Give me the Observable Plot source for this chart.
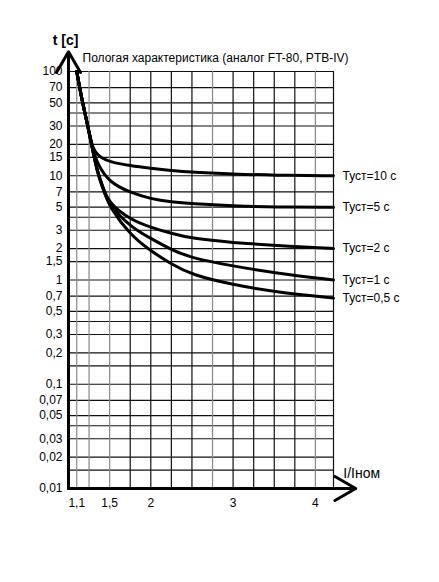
<!DOCTYPE html>
<html>
<head>
<meta charset="utf-8">
<script src="https://cdn.jsdelivr.net/npm/d3@7"></script>
<script src="https://cdn.jsdelivr.net/npm/@observablehq/plot@0.6"></script>
<style>
  body { margin: 0; background: #fff; }
</style>
</head>
<body>
<div id="chart"></div>
<script>
// current multiples I/Iном and trip times t [c]
const tSettings = ["Туст=10 с", "Туст=5 с", "Туст=2 с", "Туст=1 с", "Туст=0,5 с"];
const curveI = [
  [1.1, 1.1, 1.16, 1.22, 1.28, 1.33, 1.4, 1.5, 1.75, 2, 2.25, 2.5, 3, 3.5, 4.22, 4.22],
  [1.1, 1.1, 1.16, 1.22, 1.28, 1.35, 1.5, 1.75, 2, 2.25, 2.5, 3, 3.5, 4.22, 4.22],
  [1.1, 1.1, 1.16, 1.22, 1.28, 1.35, 1.43, 1.5, 1.75, 2, 2.25, 2.5, 3, 3.5, 4.22, 4.22],
  [1.1, 1.1, 1.16, 1.22, 1.28, 1.35, 1.43, 1.5, 1.75, 2, 2.25, 2.5, 3, 3.5, 4.22, 4.22],
  [1.1, 1.1, 1.16, 1.22, 1.28, 1.35, 1.43, 1.5, 1.75, 2, 2.25, 2.5, 3, 3.5, 4.22, 4.22]
];
const curveT = [
  [100, 100, 55, 34, 20, 16.5, 14.8, 13.6, 12.5, 11.8, 11.2, 10.8, 10.4, 10.1, 10, 10],
  [100, 100, 55, 34, 20, 12.8, 8.6, 6.9, 6.0, 5.6, 5.4, 5.15, 5.0, 5.0, 5.0],
  [100, 100, 55, 34, 20, 11, 7.3, 5.4, 3.8, 3.2, 2.8, 2.5, 2.28, 2.15, 2.0, 2.0],
  [100, 100, 55, 34, 20, 10.8, 7.2, 5.2, 3.25, 2.5, 1.95, 1.62, 1.36, 1.17, 1.0, 1.0],
  [100, 100, 55, 34, 20, 10.6, 7.1, 5.0, 2.7, 1.9, 1.42, 1.12, 0.9, 0.77, 0.67, 0.67]
];

const yTicks = [100, 70, 50, 30, 20, 15, 10, 7, 5, 3, 2, 1.5, 1, 0.7, 0.5, 0.3, 0.2,
  0.1, 0.07, 0.05, 0.03, 0.02, 0.01];
const yGrid = [100, 70, 50, 40, 30, 20, 15, 10, 7, 5, 4, 3, 2, 1.5, 1, 0.7, 0.5, 0.4, 0.3,
  0.2, 0.15, 0.1, 0.07, 0.05, 0.04, 0.03, 0.02, 0.015];
const xTicks = [1.1, 1.5, 2, 3, 4];
const xGridDark = [1.75, 2, 2.25, 2.5, 3, 3.25, 3.5, 3.75, 4.22];
const xGridLight = [1.1, 1.25, 1.5, 2.75, 4];

const xMin = 1, xMax = 4.22, xArrow = 4.49;
const yMin = 0.01, yMax = 100, yArrow = 155;

const rows = tSettings.flatMap((name, k) =>
  curveI[k].map((I, j) => ({name, I, t: curveT[k][j]})));

const comma = d => String(d).replace(".", ",");

const chart = Plot.plot({
  width: 439,
  height: 582,
  marginLeft: 68,
  marginRight: 106,
  marginTop: 71,
  marginBottom: 94,
  style: {fontFamily: "'Liberation Sans', Arial, sans-serif", fontSize: "12px", color: "#000", background: "#fff"},
  x: {type: "linear", domain: [xMin, xMax], axis: null},
  y: {type: "log", domain: [yMin, yMax], axis: null},
  marks: [
    Plot.ruleY(yGrid, {stroke: "#111", strokeWidth: 1.2}),
    Plot.ruleX(xGridLight, {stroke: "#888", strokeWidth: 1.2}),
    Plot.ruleX(xGridDark, {stroke: "#111", strokeWidth: 1.2}),
    Plot.line(rows, {x: "I", y: "t", z: "name", stroke: "#000", strokeWidth: 3, curve: "basis"}),
    Plot.text(rows, Plot.selectLast({x: "I", y: "t", z: "name", text: "name", dx: 9, textAnchor: "start", fontSize: 12})),
    Plot.text(yTicks, {x: xMin, y: d => d, text: comma, dx: -6, textAnchor: "end", fontSize: 12}),
    Plot.text(xTicks, {x: d => d, y: yMin, text: comma, dy: 15, fontSize: 12}),
    Plot.arrow([{}], {x1: xMin, y1: yMin, x2: xMin, y2: yArrow, stroke: "#000", strokeWidth: 3, headLength: 12, bend: false}),
    Plot.arrow([{}], {x1: xMin, y1: yMin, x2: xArrow, y2: yMin, stroke: "#000", strokeWidth: 3, headLength: 12, bend: false}),
    Plot.text(["t [с]"], {x: xMin, y: yArrow, dx: -3, dy: -11, fontWeight: "bold", fontSize: 14}),
    Plot.text(["Пологая характеристика (аналог FT-80, PTB-IV)"], {x: xMin, y: yMax, dx: 14, dy: -13, textAnchor: "start", fontSize: 12}),
    Plot.text(["I/Iном"], {x: xArrow, y: yMin, dx: 6, dy: -15, fontSize: 14})
  ]
});

document.getElementById("chart").append(chart);
</script>
</body>
</html>
